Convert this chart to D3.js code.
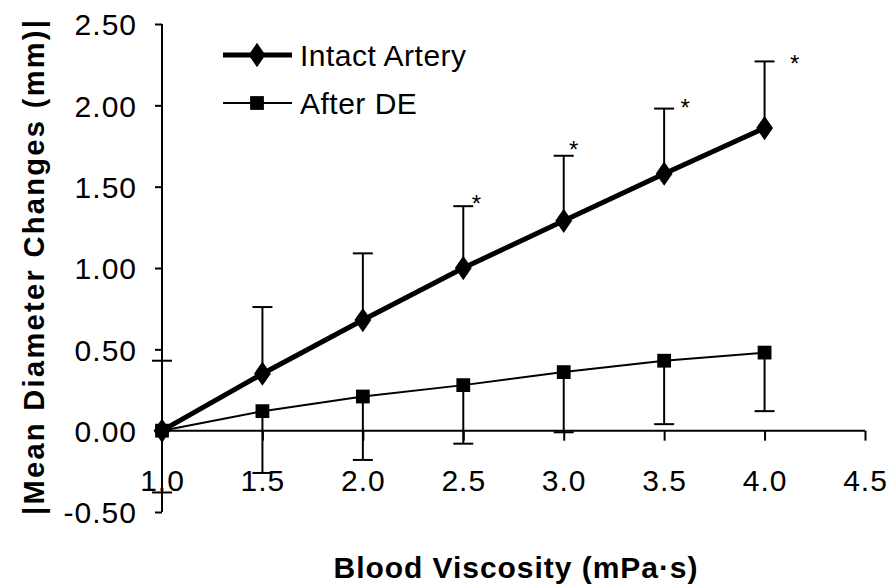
<!DOCTYPE html>
<html>
<head>
<meta charset="utf-8">
<script src="https://cdn.jsdelivr.net/npm/d3@7"></script>
<style>
  html, body { margin: 0; padding: 0; background: #fff; }
  svg { display: block; font-family: "Liberation Sans", Arial, sans-serif; }
</style>
</head>
<body>
<svg id="chart" width="888" height="587"></svg>
<script>
// ---- data ----
const viscosity = [1.0, 1.5, 2.0, 2.5, 3.0, 3.5, 4.0];
const intactMean = [0.00, 0.35, 0.68, 1.00, 1.29, 1.58, 1.86];
const intactUpper = [0.43, 0.76, 1.09, 1.38, 1.69, 1.98, 2.27];
const afterMean = [0.00, 0.12, 0.21, 0.28, 0.36, 0.43, 0.48];
const afterLower = [-0.38, -0.26, -0.18, -0.08, -0.01, 0.04, 0.12];
const xTicks = [1.0, 1.5, 2.0, 2.5, 3.0, 3.5, 4.0, 4.5];
const yTicks = [-0.5, 0, 0.5, 1.0, 1.5, 2.0, 2.5];
const starX = [2.565, 3.05, 3.605, 4.15];
const starY = [1.42, 1.75, 2.01, 2.28];
const seriesNames = ["Intact Artery", "After DE"];
const xTitle = "Blood Viscosity (mPa\u00B7s)";
const yTitle = "|Mean Diameter Changes (mm)|";

// ---- layout ----
const svg = d3.select("#chart");
const x = d3.scaleLinear().domain([1.0, 4.5]).range([162, 865]);
const y = d3.scaleLinear().domain([-0.5, 2.5]).range([512, 24]);
const FS = 30;

// y axis
const yAxis = svg.append("g").attr("transform", `translate(${x(1.0)},0)`)
  .call(d3.axisLeft(y).tickValues(yTicks).tickSize(7).tickPadding(18).tickFormat(d => d.toFixed(2)));
yAxis.select(".domain").attr("stroke", "#000").attr("stroke-width", 2)
  .attr("d", `M0,${y(2.5)}V${y(-0.5)}`);
yAxis.selectAll(".tick line").attr("stroke", "#000").attr("stroke-width", 2);
yAxis.selectAll(".tick text").attr("font-size", FS).attr("fill", "#000")
  .attr("letter-spacing", 1)
  .attr("font-family", "Liberation Sans, Arial, sans-serif").attr("dy", "0.36em");

// x axis at y=0
const xAxis = svg.append("g").attr("transform", `translate(0,${y(0)})`)
  .call(d3.axisBottom(x).tickValues(xTicks).tickSize(10).tickFormat(d => d.toFixed(1)));
xAxis.select(".domain").attr("stroke", "#000").attr("stroke-width", 2)
  .attr("d", `M${x(1.0)},0H${x(4.5)}`);
xAxis.selectAll(".tick line").attr("stroke", "#000").attr("stroke-width", 2);
xAxis.selectAll(".tick text").attr("font-size", FS).attr("fill", "#000")
  .attr("letter-spacing", 1)
  .attr("font-family", "Liberation Sans, Arial, sans-serif")
  .attr("y", 60).attr("dy", 0);

// error bars
const capW = 10;
const intactData = viscosity.map((v, i) => ({ x: v, m: intactMean[i], e: intactUpper[i] }));
const afterData = viscosity.map((v, i) => ({ x: v, m: afterMean[i], e: afterLower[i] }));

function errorBars(data) {
  const g = svg.append("g").attr("stroke", "#000").attr("stroke-width", 2);
  g.selectAll("line.v").data(data).join("line")
    .attr("x1", d => x(d.x)).attr("x2", d => x(d.x))
    .attr("y1", d => y(d.m)).attr("y2", d => y(d.e));
  g.selectAll("line.c").data(data).join("line")
    .attr("x1", d => x(d.x) - capW).attr("x2", d => x(d.x) + capW)
    .attr("y1", d => y(d.e)).attr("y2", d => y(d.e));
}
errorBars(afterData);
errorBars(intactData);

// lines
const line = d3.line().x(d => x(d.x)).y(d => y(d.m));
svg.append("path").datum(afterData).attr("d", line)
  .attr("fill", "none").attr("stroke", "#000").attr("stroke-width", 2);
svg.append("path").datum(intactData).attr("d", line)
  .attr("fill", "none").attr("stroke", "#000").attr("stroke-width", 5);

// markers
const diamond = d3.symbol().type(d3.symbolDiamond).size(170);
const square = d3.symbol().type(d3.symbolSquare).size(190);
svg.append("g").selectAll("path").data(afterData).join("path")
  .attr("transform", d => `translate(${x(d.x)},${y(d.m)})`)
  .attr("d", square).attr("fill", "#000");
svg.append("g").selectAll("path").data(intactData).join("path")
  .attr("transform", d => `translate(${x(d.x)},${y(d.m)}) scale(1.2,1)`)
  .attr("d", diamond).attr("fill", "#000");

// significance stars
svg.append("g").selectAll("text").data(starX.map((v, i) => [v, starY[i]])).join("text")
  .attr("x", d => x(d[0])).attr("y", d => y(d[1]))
  .attr("dy", "0.5em")
  .attr("text-anchor", "middle")
  .attr("font-size", 24).attr("fill", "#000").text("*");

// legend
const legend = svg.append("g");
const legendRows = [
  { name: seriesNames[0], sw: 5, sym: diamond, sx: 1.2, ly: 55 },
  { name: seriesNames[1], sw: 2, sym: square, sx: 1, ly: 103 }
];
legendRows.forEach(r => {
  legend.append("line").attr("x1", 223).attr("x2", 292).attr("y1", r.ly).attr("y2", r.ly)
    .attr("stroke", "#000").attr("stroke-width", r.sw);
  legend.append("path").attr("transform", `translate(257,${r.ly}) scale(${r.sx},1)`).attr("d", r.sym).attr("fill", "#000");
  legend.append("text").attr("x", 300).attr("y", r.ly).attr("dy", "0.36em")
    .attr("letter-spacing", 0.5)
    .attr("font-size", FS).attr("fill", "#000").text(r.name);
});

// axis titles
svg.append("text").attr("x", (x(1.0) + x(4.5)) / 2 + 2).attr("y", 578)
  .attr("text-anchor", "middle").attr("font-size", 30).attr("font-weight", "bold")
  .attr("fill", "#000").attr("textLength", 364).attr("lengthAdjust", "spacing")
  .text(xTitle);
svg.append("text").attr("transform", `translate(44,${(20 + 515) / 2}) rotate(-90)`)
  .attr("text-anchor", "middle").attr("font-size", 29).attr("font-weight", "bold")
  .attr("fill", "#000").attr("textLength", 495).attr("lengthAdjust", "spacing")
  .text(yTitle);
</script>
</body>
</html>
